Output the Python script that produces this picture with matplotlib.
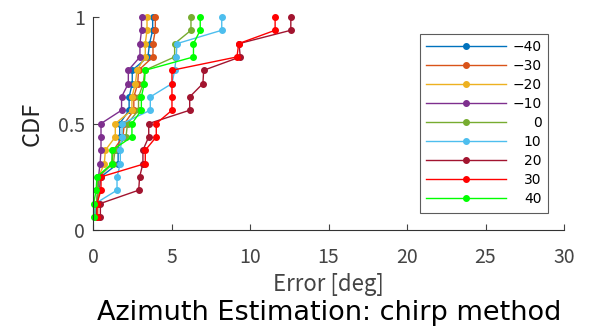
import numpy as np
import matplotlib
matplotlib.use('Agg')
import matplotlib.pyplot as plt

plt.rcParams['font.family'] = ['Noto Sans CJK JP', 'DejaVu Sans']

# Azimuth labels and colours (MATLAB palette).
labels = ['\u221240', '\u221230', '\u221220', '\u221210', '0', '10', '20', '30', '40']
colors = ['#0072BD', '#D95319', '#EDB120', '#7E2F8E', '#77AC30',
          '#4DBEEE', '#A2142F', '#FF0000', '#00FF00']

# Sorted errors [deg], 16 trials each.
err_m40 = [0.1, 0.2, 0.4, 0.5, 1.6, 1.6, 1.7, 1.7, 2.3, 2.3, 2.5, 2.5, 3.5, 3.6, 3.8, 3.8]
err_m30 = [0.3, 0.3, 0.35, 0.4, 1.2, 1.3, 1.9, 2.0, 2.6, 2.6, 2.85, 2.9, 3.82, 3.82, 3.97, 3.97]
err_m20 = [0.25, 0.3, 0.3, 0.35, 0.72, 0.79, 1.42, 1.42, 2.48, 2.48, 2.7, 2.8, 3.33, 3.33, 3.44, 3.44]
err_m10 = [0.2, 0.25, 0.3, 0.35, 0.45, 0.51, 0.51, 0.51, 1.82, 1.82, 2.25, 2.25, 2.99, 2.99, 3.09, 3.09]
err_0 = [0.1, 0.2, 0.3, 0.3, 1.3, 1.4, 2.1, 2.2, 2.9, 2.9, 3.2, 3.3, 5.2, 5.2, 6.24, 6.24]
err_10 = [0.1, 0.15, 1.53, 1.53, 1.74, 1.74, 1.85, 1.85, 3.65, 3.65, 5.03, 5.2, 5.3, 5.35, 8.2, 8.2]
err_20 = [0.47, 0.47, 2.91, 2.97, 3.18, 3.18, 3.55, 3.55, 6.16, 6.16, 7.0, 7.05, 9.38, 9.3, 12.6, 12.6]
err_30 = [0.25, 0.25, 0.51, 0.51, 3.33, 3.33, 4.03, 4.03, 5.03, 5.03, 5.03, 5.03, 9.17, 9.28, 11.6, 11.6]
err_40 = [0.04, 0.04, 0.2, 0.25, 1.21, 1.21, 2.48, 2.48, 3.08, 3.08, 3.27, 3.33, 6.4, 6.4, 6.83, 6.83]

series = [err_m40, err_m30, err_m20, err_m10, err_0, err_10, err_20, err_30, err_40]

fig = plt.figure(figsize=(6, 3.26), dpi=100)
ax = fig.add_axes([0.155, 0.294, 0.785, 0.654])

for errs, c, lab in zip(series, colors, labels):
    cdf = np.arange(1, len(errs) + 1) / len(errs)
    ax.plot(errs, cdf, '-o', color=c, lw=1, ms=4, label=lab, clip_on=False)

ax.set_xlim(0, 30)
ax.set_ylim(0, 1)
ax.set_xticks([0, 5, 10, 15, 20, 25, 30])
ax.set_yticks([0, 0.5, 1])
ax.set_yticklabels(['0', '0.5', '1'])
ax.tick_params(direction='in', length=4, labelsize=14, colors='#444444')
ax.tick_params(axis='x', pad=12)
ax.tick_params(axis='y', pad=6)
for s in ['top', 'right']:
    ax.spines[s].set_visible(False)
for s in ['left', 'bottom']:
    ax.spines[s].set_color('#333333')
    ax.spines[s].set_linewidth(0.8)

ax.set_xlabel('Error [deg]', fontsize=16, color='#444444', labelpad=4)
ax.set_ylabel('CDF', fontsize=17, color='#222222', labelpad=10)

leg = ax.legend(loc='upper left', bbox_to_anchor=(0.694, 0.92), numpoints=1,
                handlelength=5.75, frameon=True, fancybox=False,
                prop={'family': 'DejaVu Sans', 'size': 10},
                edgecolor='#333333', labelspacing=0.36, borderpad=0.45,
                handletextpad=0.45, borderaxespad=0)
leg.get_frame().set_linewidth(0.8)

# Right-align the legend labels.
fig.canvas.draw()
renderer = fig.canvas.get_renderer()
widths = [t.get_window_extent(renderer).width for t in leg.get_texts()]
shift = max(widths)
for t, w in zip(leg.get_texts(), widths):
    t.set_position((shift - w, 0))

fig.text(0.162, 0.017, 'Azimuth Estimation: chirp method', fontsize=19.5,
         color='black', family='DejaVu Sans')

fig.savefig('out.png', dpi=100)
